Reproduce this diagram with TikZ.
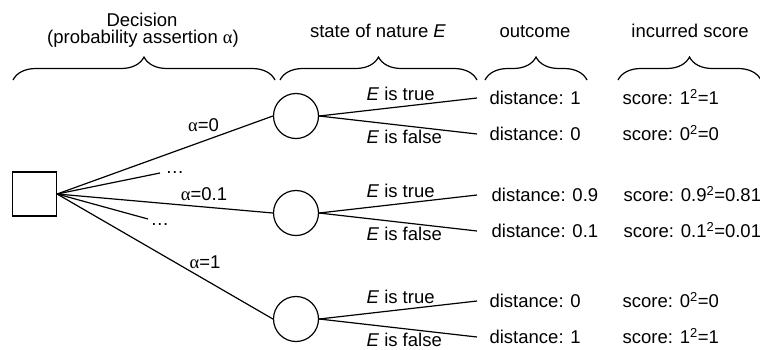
\documentclass[tikz,border=0pt]{standalone}
\usepackage{fontspec}
\setmainfont{Liberation Sans}
\newfontfamily\grk{Liberation Serif}
\newcommand{\alf}{{\grk α}}
\usetikzlibrary{decorations.pathreplacing}
\begin{document}
\begin{tikzpicture}[x=1pt,y=-1pt, line width=1.2pt,
  every node/.style={font=\fontsize{18.5}{22}\selectfont},
  decbox/.style={draw, minimum size=44pt, inner sep=0pt},
  chance/.style={draw, circle, minimum size=45pt, inner sep=0pt},
  lbl/.style={anchor=base west, inner sep=0pt},
  hd/.style={anchor=base, inner sep=0pt},
  brc/.style={decorate, decoration={brace, amplitude=23pt}}]
\useasboundingbox (0,0) rectangle (760,349);
% headings
\node[hd] (h1a) at (142,26.5) {Decision};
\node[hd] (h1b) at (143,43.5) {(probability assertion \alf)};
\node[hd] (h2) at (378,37) {state of nature \textit{E}};
\node[hd] (h3) at (535,37) {outcome};
\node[hd] (h4) at (690,37) {incurred score};
% braces
\draw[brc] (13,80) -- (275,80);
\draw[brc] (280,80) -- (477,80);
\draw[brc] (485,80) -- (587,80);
\draw[brc] (618,80) -- (761,80);
% nodes
\node[decbox] (sq) at (34.5,194) {};
\node[chance] (c1) at (296,116) {};
\node[chance] (c2) at (296,213) {};
\node[chance] (c3) at (296,319) {};
\coordinate (d1) at (160,173);
\coordinate (d2) at (148,219);
\draw (sq.east) -- (c1.west);
\draw (sq.east) -- (d1);
\draw (sq.east) -- (c2.west);
\draw (sq.east) -- (d2);
\draw (sq.east) -- (c3.west);
\node[lbl] (dots1) at (165,173.5) {…};
\node[lbl] (dots2) at (150,225.5) {…};
\node[hd] (a0) at (203.5,131.5) {\alf=0};
\node[hd] (a01) at (204,200) {\alf=0.1};
\node[hd] (a1) at (205,268) {\alf=1};
% branch ends
\coordinate (t1) at (477,98);
\coordinate (f1) at (477,134);
\coordinate (t2) at (477,195);
\coordinate (f2) at (477,231);
\coordinate (t3) at (477,301);
\coordinate (f3) at (477,337);
\draw (c1.east) -- (t1);
\draw (c1.east) -- (f1);
\draw (c2.east) -- (t2);
\draw (c2.east) -- (f2);
\draw (c3.east) -- (t3);
\draw (c3.east) -- (f3);
% E labels
\node[lbl] (e1t) at (366,100) {\textit{E} is true};
\node[lbl] (e1f) at (366,143) {\textit{E} is false};
\node[lbl] (e2t) at (366,197) {\textit{E} is true};
\node[lbl] (e2f) at (366,240) {\textit{E} is false};
\node[lbl] (e3t) at (366,303) {\textit{E} is true};
\node[lbl] (e3f) at (366,346.5) {\textit{E} is false};
% outcomes
\node[lbl] (o1) at (489,104.5) {distance: 1};
\node[lbl] (o2) at (489,140.5) {distance: 0};
\node[lbl] (o3) at (491,201.5) {distance: 0.9};
\node[lbl] (o4) at (491,237.5) {distance: 0.1};
\node[lbl] (o5) at (489,307.5) {distance: 0};
\node[lbl] (o6) at (489,343.5) {distance: 1};
% scores
\node[lbl] (s1) at (622,104.5) {score: 1\textsuperscript{2}=1};
\node[lbl] (s2) at (622,140.5) {score: 0\textsuperscript{2}=0};
\node[lbl] (s3) at (623,201.5) {score: 0.9\textsuperscript{2}=0.81};
\node[lbl] (s4) at (623,237.5) {score: 0.1\textsuperscript{2}=0.01};
\node[lbl] (s5) at (622,307.5) {score: 0\textsuperscript{2}=0};
\node[lbl] (s6) at (622,343.5) {score: 1\textsuperscript{2}=1};
\end{tikzpicture}
\end{document}
